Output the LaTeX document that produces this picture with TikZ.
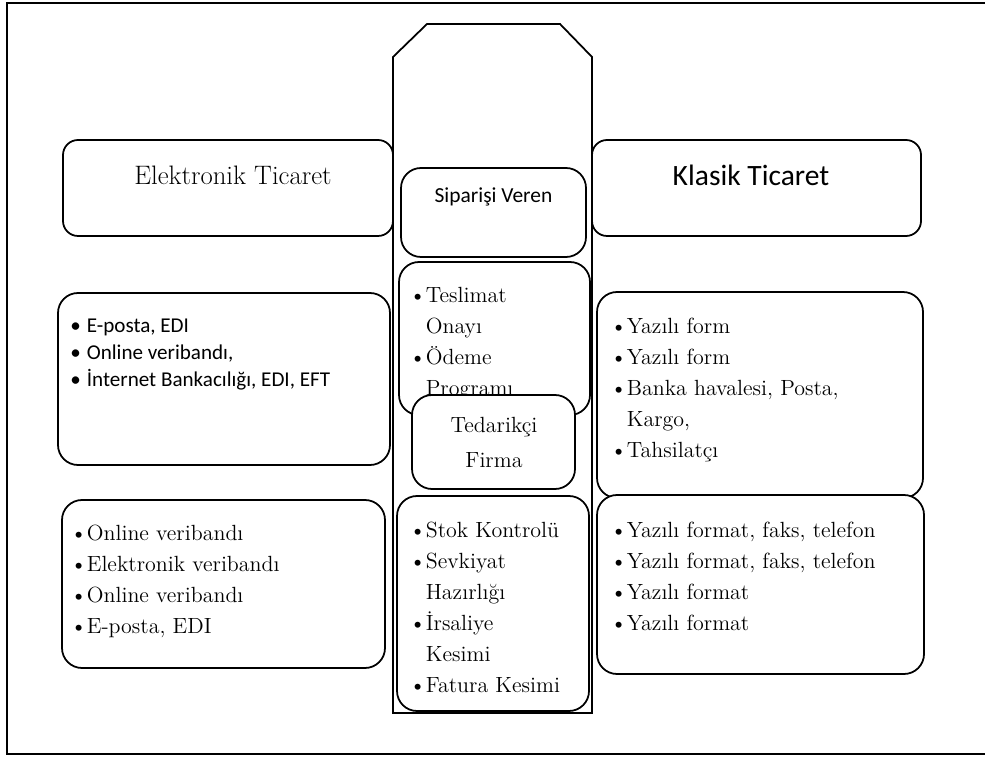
\documentclass[tikz,border=0pt]{standalone}
\usepackage{fontspec}
\newfontfamily\sansf{Carlito}
\newcommand{\bul}[1]{\makebox[0.33cm][l]{\textbullet}#1}
\newcommand{\cnt}[1]{\hspace*{0.33cm}#1}

\tikzset{
    box/.style={draw, line width=1pt, fill=white, rounded corners=0.4cm, inner sep=0pt, outer sep=0pt},
    titlebox/.style={box, rounded corners=0.3cm},
    listtext/.style={anchor=north west, align=left, inner sep=0pt, font=\fontsize{12.5}{17.6}\selectfont},
    sanslist/.style={anchor=north west, align=left, inner sep=0pt, font=\sansf\fontsize{12}{15.3}\selectfont}
}

\begin{document}
\begin{tikzpicture}
        \useasboundingbox (0,0) rectangle (19.7,15.16);
        \draw[line width=1pt] (19.75,15.1) -- (0.14,15.1) -- (0.14,0.08) -- (19.75,0.08);
        % middle column
        \draw[line width=1pt, fill=white] (7.86,0.9) -- (7.86,14.02) -- (8.54,14.68)
            -- (11.2,14.68) -- (11.84,14.02) -- (11.84,0.9) -- cycle;

        \node[titlebox, minimum width=6.6cm, minimum height=1.92cm] (Elektronik) at (4.56,11.4) {};
        \node[font=\fontsize{15.2}{17}\selectfont] (ElektronikText) at (4.66,11.66) {
            Elektronik Ticaret
        };
        \node[titlebox, minimum width=6.58cm, minimum height=1.92cm] (Klasik) at (15.13,11.4) {};
        \node[font=\sansf\fontsize{16.8}{18}\selectfont] (KlasikText) at (15.02,11.66) {
            Klasik Ticaret
        };
        \node[box, minimum width=3.7cm, minimum height=1.78cm] (Siparis) at (9.87,10.91) {};
        \node[font=\sansf\fontsize{12.2}{14}\selectfont] (SiparisText) at (9.87,11.22) {
            Siparişi Veren
        };

        % order side
        \node[box, minimum width=3.82cm, minimum height=3.06cm] (Teslimat) at (9.89,8.39) {};
        \node[listtext] (TeslimatText) at (8.18,9.42) {
            \bul{Teslimat}\\ \cnt{Onayı}\\ \bul{Ödeme}\\ \cnt{Programı}
        };
        \node[box, minimum width=3.26cm, minimum height=1.88cm] (Tedarikci) at (9.87,6.32) {};
        \node[align=center, font=\fontsize{12.5}{19.8}\selectfont] (TedarikciText) at (9.88,6.31) {
            Tedarikçi\\ Firma
        };
        \node[box, minimum width=3.84cm, minimum height=4.3cm] (Stok) at (9.86,3.09) {};
        \node[listtext] (StokText) at (8.18,4.72) {
            \bul{Stok Kontrolü}\\ \bul{Sevkiyat}\\ \cnt{Hazırlığı}\\
            \bul{İrsaliye}\\ \cnt{Kesimi}\\ \bul{Fatura Kesimi}
        };

        % left side
        \node[box, minimum width=6.64cm, minimum height=3.44cm] (EMid) at (4.48,7.58) {};
        \node[sanslist] (EMidText) at (1.4,8.78) {
            \bul{E-posta, EDI}\\ \bul{Online veribandı,}\\ \bul{İnternet Bankacılığı, EDI, EFT}
        };
        \node[box, minimum width=6.46cm, minimum height=3.36cm] (EBot) at (4.47,3.48) {};
        \node[listtext] (EBotText) at (1.4,4.66) {
            \bul{Online veribandı}\\ \bul{Elektronik veribandı}\\
            \bul{Online veribandı}\\ \bul{E-posta, EDI}
        };

        % right side
        \node[box, minimum width=6.52cm, minimum height=4.12cm] (KMid) at (15.2,7.26) {};
        \node[listtext] (KMidText) at (12.2,8.8) {
            \bul{Yazılı form}\\ \bul{Yazılı form}\\ \bul{Banka havalesi, Posta,}\\
            \cnt{Kargo,}\\ \bul{Tahsilatçı}
        };
        \node[box, minimum width=6.54cm, minimum height=3.58cm] (KBot) at (15.21,3.47) {};
        \node[listtext] (KBotText) at (12.2,4.72) {
            \bul{Yazılı format, faks, telefon}\\ \bul{Yazılı format, faks, telefon}\\
            \bul{Yazılı format}\\ \bul{Yazılı format}
        };
    \end{tikzpicture}
\end{document}
